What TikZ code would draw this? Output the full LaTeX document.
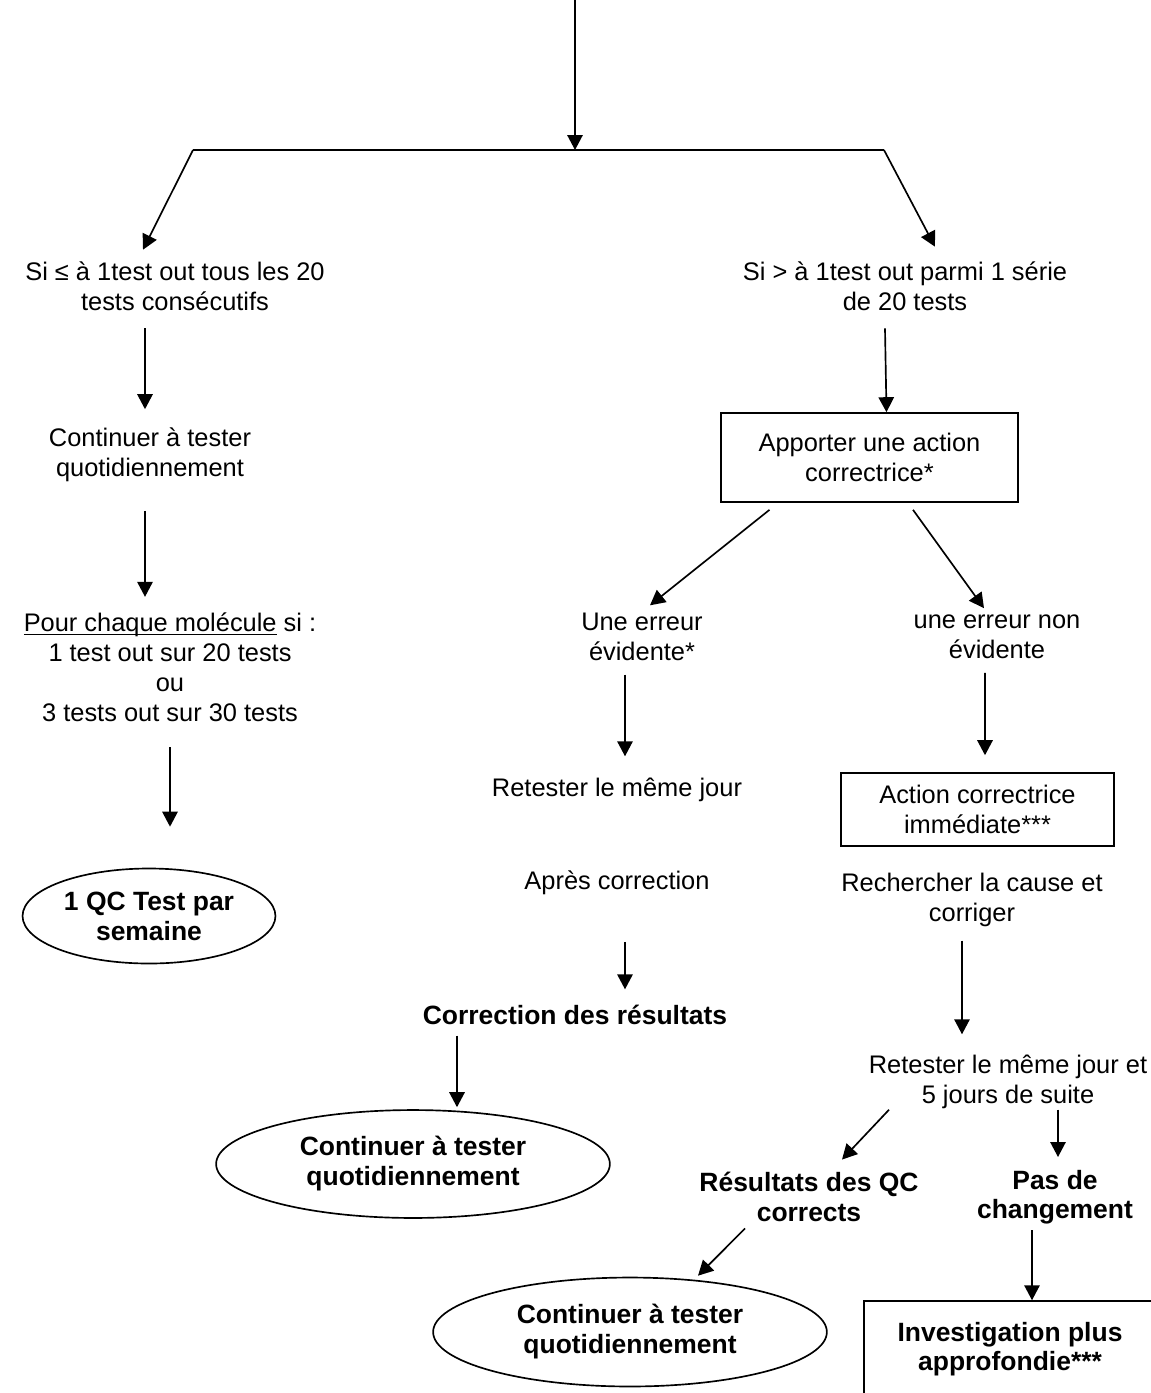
\documentclass[tikz,border=0pt]{standalone}
\usepackage{fontspec}
\setmainfont{Liberation Sans}
\usetikzlibrary{positioning,arrows.meta,calc,shapes.geometric}

\begin{document}
\begin{tikzpicture}[x=0.48pt,y=-0.48pt, >={Triangle[length=7.2pt,width=7.4pt]},
  line width=0.8pt, font={\fontsize{12.2}{14.4}\selectfont},
  txt/.style={align=center,inner sep=0pt},
  bold/.style={txt,font={\fontsize{12.7}{14.2}\selectfont\bfseries}},
  box/.style={draw,align=center,inner sep=0pt,minimum width=#1},
  oval/.style={draw,ellipse,align=center,inner sep=0pt,font={\fontsize{12.7}{14.4}\selectfont\bfseries}}]
  \clip (0,0) rectangle (1151,1393);
  \useasboundingbox (0,0) rectangle (1151,1393);

  % entry and split bar
  \coordinate (top) at (575,0);
  \coordinate (barM) at (575,150);
  \coordinate (barL) at (193,150);
  \coordinate (barR) at (884,150);
  \draw[->] (top) -- (barM);
  \draw (barL) -- (barR);

  % left branch
  \node[txt] (tL) at (175,286) {Si ≤ à 1test out tous les 20\\tests consécutifs};
  \node[txt] (cL) at (150,455) {Continuer à tester\\quotidiennement};
  \node[txt] (pL) at (170,667) {\underline{\smash{Pour chaque molécule}} si :\\1 test out sur 20 tests\\ou\\3 tests out sur 30 tests};
  \node[oval,minimum width=121.4pt,minimum height=45.6pt] (e1) at (149,916) {1 QC Test par\\semaine};

  \draw[->] (barL) -- ($(tL.north)+(-32,-11)$);
  \draw[->] ($(tL.south)+(-30,17)$) -- ($(cL.north)+(-5,-18)$);
  \draw[->] ($(cL.south)+(-5,28)$) -- ($(pL.north)+(-25,-15)$);
  \draw[->] ($(pL.south)+(0,25)$) -- ($(e1.north)+(21,-41)$);

  % right branch
  \node[txt] (tR) at (905,286) {Si > à 1test out parmi 1 série\\de 20 tests};
  \node[box=142.6pt,minimum height=42.7pt] (b1) at (869.5,457.5) {Apporter une action\\correctrice*};
  \draw[->] (barR) -- ($(tR.north)+(30,-14)$);
  \draw[->] ($(tR.south)+(-20,17)$) -- ($(b1.north)+(17,0)$);

  % obvious error
  \node[txt] (eA) at (642,637) {Une erreur\\évidente*};
  \node[txt] (rA) at (617,790) {Retester le même jour};
  \node[txt] (aA) at (617,883) {Après correction};
  \node[bold] (cA) at (575,1015) {Correction des résultats};
  \node[oval,minimum width=189pt,minimum height=51.8pt] (e2) at (413,1164) {Continuer à tester\\quotidiennement};
  \draw[->] ($(b1.south)+(-100,7)$) -- ($(eA.north)+(8,-7)$);
  \draw[->] ($(eA.south)+(-17,13)$) -- ($(rA.north)+(8,-21)$);
  \draw[->] ($(aA.south)+(8,46)$) -- ($(cA.north)+(50,-15)$);
  \draw[->] ($(cA.south)+(-118,10)$) -- ($(e2.north)+(44,-2)$);

  % non obvious error
  \node[txt] (eB) at (997,637) {une erreur non\\évidente};
  \node[box=131pt,minimum height=35pt] (b2) at (977.5,809.5) {Action correctrice\\immédiate***};
  \node[txt] (rB) at (972,900) {Rechercher la cause et\\corriger};
  \node[txt] (rC) at (1008,1082) {Retester le même jour et\\5 jours de suite};
  \node[bold] (qc) at (809,1197) {Résultats des QC\\corrects};
  \node[bold] (pc) at (1055,1197) {Pas de\\changement};
  \node[oval,minimum width=189pt,minimum height=52.3pt] (e3) at (630,1332) {Continuer à tester\\quotidiennement};
  \node[box=140pt,minimum height=46pt,font={\fontsize{12.7}{14.2}\selectfont\bfseries}] (b3) at (1010,1349) {Investigation plus\\approfondie***};
  \draw[->] ($(b1.south)+(43.5,7)$) -- ($(eB.north)+(-13,-6)$);
  \draw[->] ($(eB.south)+(-12,13)$) -- ($(b2.north)+(7.5,-17)$);
  \draw[->] ($(rB.south)+(-10,13)$) -- ($(rC.north)+(-46,-20)$);
  \draw[->] ($(rC.south)+(-119,0)$) -- ($(qc.north)+(33,-12)$);
  \draw[->] ($(rC.south)+(50,0)$) -- ($(pc.north)+(3,-12)$);
  \draw[->] ($(qc.south)+(-64,6)$) -- ($(e3.north)+(68,-1)$);
  \draw[->] ($(pc.south)+(-23,5)$) -- ($(b3.north)+(22,0)$);
\end{tikzpicture}
\end{document}
